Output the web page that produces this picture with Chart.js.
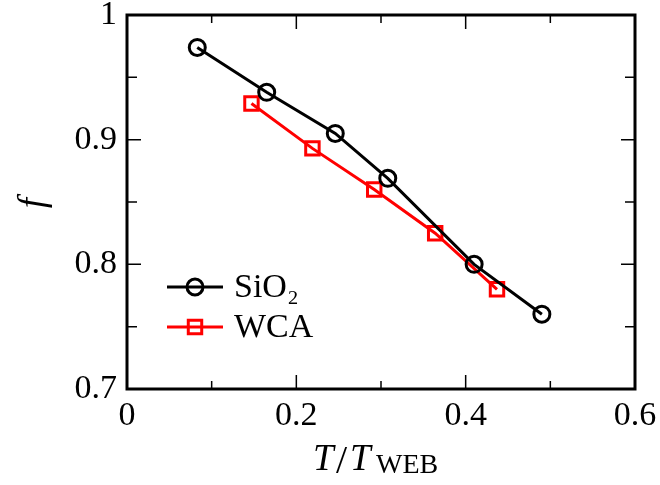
<!DOCTYPE html>
<html><head><meta charset="utf-8">
<script src="https://cdn.jsdelivr.net/npm/chart.js@4"></script>
<style>html,body{margin:0;padding:0;background:#fff}#wrap{width:660px;height:485px;position:relative}</style>
</head><body><div id="wrap"><canvas id="c" width="660" height="485"></canvas></div>
<script>
const sio2X = [0.083, 0.165, 0.246, 0.308, 0.410, 0.490];
const sio2Y = [0.974, 0.938, 0.905, 0.869, 0.800, 0.760];
const wcaX  = [0.147, 0.219, 0.292, 0.364, 0.437];
const wcaY  = [0.929, 0.893, 0.860, 0.825, 0.780];
const seriesNames = ['SiO\u2082', 'WCA'];
const xLabelValues = [0, 0.2, 0.4, 0.6];
const yLabelValues = [0.7, 0.8, 0.9, 1];

const FONT = '"Liberation Serif", "DejaVu Serif", serif';

function near(v, arr){ return arr.some(a => Math.abs(a - v) < 1e-6); }

const framePlugin = {
  id: 'frame',
  afterDraw(chart){
    const ctx = chart.ctx, a = chart.chartArea;
    const xs = chart.scales.x, ys = chart.scales.y;
    ctx.save();
    ctx.strokeStyle = '#000';
    ctx.lineWidth = 1.5;
    ctx.beginPath();
    xs.ticks.forEach(t => {
      const px = xs.getPixelForValue(t.value);
      if (px <= a.left + 1 || px >= a.right - 1) return;
      const L = near(t.value, xLabelValues) ? 14 : 8;
      ctx.moveTo(px, a.bottom); ctx.lineTo(px, a.bottom - L);
      ctx.moveTo(px, a.top); ctx.lineTo(px, a.top + L);
    });
    ys.ticks.forEach(t => {
      const py = ys.getPixelForValue(t.value);
      if (py <= a.top + 1 || py >= a.bottom - 1) return;
      const L = near(t.value, yLabelValues) ? 14 : 10;
      ctx.moveTo(a.left, py); ctx.lineTo(a.left + L, py);
      ctx.moveTo(a.right, py); ctx.lineTo(a.right - L, py);
    });
    ctx.stroke();
    ctx.lineWidth = 3;
    ctx.strokeRect(a.left, a.top, a.right - a.left, a.bottom - a.top);

    // x axis title: T/T_WEB
    ctx.fillStyle = '#000';
    ctx.textBaseline = 'alphabetic';
    ctx.textAlign = 'left';
    const by = 470;
    ctx.font = 'italic 37px ' + FONT; ctx.fillText('T', 313, by);
    ctx.font = '40px ' + FONT; ctx.fillText('/', 336, by + 3);
    ctx.font = 'italic 37px ' + FONT; ctx.fillText('T', 350, by);
    ctx.font = '28px ' + FONT; ctx.fillText('WEB', 376, by + 3);

    // y axis title: f (rotated)
    ctx.save();
    ctx.translate(44, 203);
    ctx.rotate(-Math.PI / 2);
    ctx.font = 'italic 37px ' + FONT;
    ctx.textAlign = 'center';
    ctx.textBaseline = 'alphabetic';
    ctx.fillText('f', 0, 0);
    ctx.restore();
    ctx.restore();
  }
};

const legendPlugin = {
  id: 'customLegend',
  afterDatasetsDraw(chart){
    const ctx = chart.ctx;
    const rows = [287, 327];
    ctx.save();
    chart.data.datasets.forEach((ds, i) => {
      const y = rows[i];
      ctx.strokeStyle = ds.borderColor;
      ctx.lineWidth = ds.borderWidth;
      ctx.beginPath(); ctx.moveTo(167, y); ctx.lineTo(223, y); ctx.stroke();
      ctx.fillStyle = 'rgba(0,0,0,0)';
      ctx.strokeStyle = ds.borderColor;
      ctx.lineWidth = ds.pointBorderWidth;
      Chart.helpers.drawPoint(ctx, {
        pointStyle: ds.pointStyle, radius: ds.pointRadius,
        borderWidth: ds.pointBorderWidth, rotation: 0
      }, 195, y);
      ctx.fillStyle = '#000';
      ctx.font = '34px ' + FONT;
      ctx.textAlign = 'left';
      ctx.textBaseline = 'middle';
      ctx.fillText(ds.label, 234, y + 1);
    });
    ctx.restore();
  }
};

const zeroPad = s => { s.paddingTop = 0; s.paddingBottom = 0; s.paddingLeft = 0; s.paddingRight = 0; };

new Chart(document.getElementById('c'), {
  type: 'line',
  data: {
    datasets: [
      {
        label: seriesNames[0],
        data: sio2X.map((x, i) => ({x, y: sio2Y[i]})),
        borderColor: '#000', borderWidth: 3,
        pointStyle: 'circle', pointRadius: 8,
        pointBorderWidth: 3, pointBackgroundColor: 'rgba(0,0,0,0)',
        pointBorderColor: '#000', tension: 0
      },
      {
        label: seriesNames[1],
        data: wcaX.map((x, i) => ({x, y: wcaY[i]})),
        borderColor: '#ff0000', borderWidth: 3,
        pointStyle: 'rect', pointRadius: 9.5,
        pointBorderWidth: 3, pointBackgroundColor: 'rgba(0,0,0,0)',
        pointBorderColor: '#ff0000', tension: 0
      }
    ]
  },
  options: {
    responsive: false,
    animation: false,
    events: [],
    layout: { padding: { top: 15, right: 25, left: 0, bottom: 0 } },
    plugins: { legend: { display: false }, tooltip: { enabled: false } },
    scales: {
      x: {
        type: 'linear', min: 0, max: 0.6,
        afterFit: s => { s.height = 96; zeroPad(s); },
        grid: { display: false, drawTicks: false },
        border: { display: false },
        ticks: {
          stepSize: 0.1, padding: 7, color: '#000',
          font: { family: FONT, size: 34 },
          callback: v => near(v, xLabelValues) ? String(Math.round(v * 10) / 10) : ''
        }
      },
      y: {
        type: 'linear', min: 0.7, max: 1,
        afterFit: s => { s.width = 127; zeroPad(s); },
        grid: { display: false, drawTicks: false },
        border: { display: false },
        ticks: {
          stepSize: 0.05, padding: 10, color: '#000',
          font: { family: FONT, size: 34 },
          callback: v => near(v, yLabelValues) ? String(Math.round(v * 10) / 10) : ''
        }
      }
    }
  },
  plugins: [framePlugin, legendPlugin]
});
</script>
</body></html>
